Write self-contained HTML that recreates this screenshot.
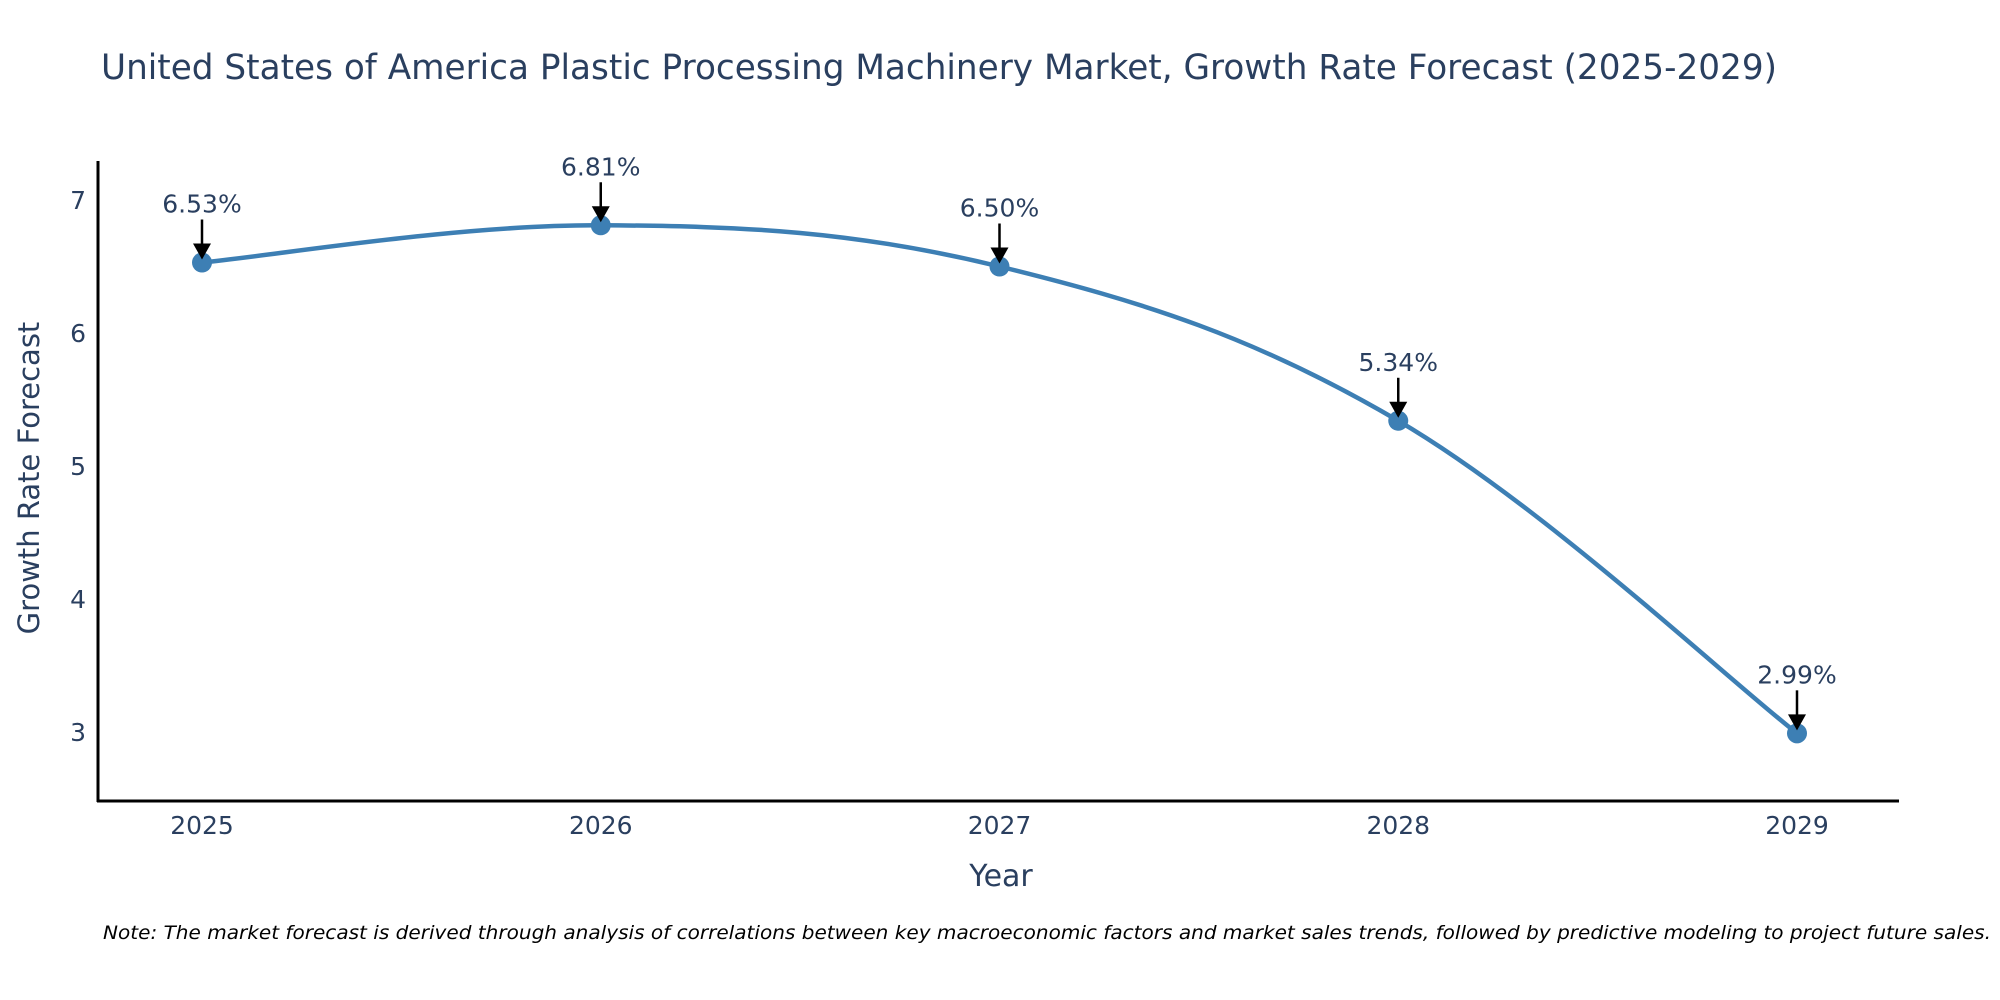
<!DOCTYPE html>
<html><head><meta charset="utf-8"><style>
html,body{margin:0;padding:0;background:#fff;}
svg{display:block;font-family:"DejaVu Sans","Liberation Sans",sans-serif;}
</style></head><body>
<svg id="chart" width="2000" height="1000" viewBox="0 0 2000 1000">
<text x="101" y="79" font-size="35" fill="#2a3f5f" textLength="1676" lengthAdjust="spacingAndGlyphs">United States of America Plastic Processing Machinery Market, Growth Rate Forecast (2025-2029)</text>
<g id="yticks"></g>
<g id="xticks"></g>
<line x1="98" y1="161" x2="98" y2="802" stroke="#000" stroke-width="3"/>
<line x1="97" y1="801" x2="1899" y2="801" stroke="#000" stroke-width="3"/>
<text x="1001" y="886" font-size="30" fill="#2a3f5f" text-anchor="middle">Year</text>
<text transform="translate(39,478) rotate(-90)" font-size="29" fill="#2a3f5f" text-anchor="middle">Growth Rate Forecast</text>
<g id="series"></g>
<g id="annots"></g>
<text x="103" y="939" font-size="19" font-style="italic" fill="#000" textLength="1888" lengthAdjust="spacingAndGlyphs">Note: The market forecast is derived through analysis of correlations between key macroeconomic factors and market sales trends, followed by predictive modeling to project future sales.</text>
</svg>
<script>
const years = [2025, 2026, 2027, 2028, 2029];
const growthValues = [6.53, 6.81, 6.50, 5.34, 2.99];
const valueLabels = ["6.53%", "6.81%", "6.50%", "5.34%", "2.99%"];
const yTickValues = [3, 4, 5, 6, 7];

const NS = "http://www.w3.org/2000/svg";
function xScale(yr){ return 202 + (yr - 2025) * 398.75; }
function yScale(v){ return 732 - (v - 3) * 133; }
function mk(tag, attrs, parent){
  const e = document.createElementNS(NS, tag);
  for (const k in attrs) e.setAttribute(k, attrs[k]);
  parent.appendChild(e);
  return e;
}
const yt = document.getElementById("yticks");
yTickValues.forEach(v => {
  const t = mk("text", {x: 86, y: yScale(v) + 9, "font-size": 25, fill: "#2a3f5f", "text-anchor": "end"}, yt);
  
  
  t.textContent = v;
});
const xt = document.getElementById("xticks");
years.forEach(yr => {
  const t = mk("text", {x: xScale(yr), y: 834, "font-size": 25, fill: "#2a3f5f", "text-anchor": "middle"}, xt);
  
  
  t.textContent = yr;
});
const pts = years.map((yr, i) => [xScale(yr), yScale(growthValues[i])]);
let d = "M" + pts[0][0] + "," + pts[0][1];
const tension = 0.18;
for (let i = 0; i < pts.length - 1; i++) {
  const p0 = pts[Math.max(0, i - 1)], p1 = pts[i], p2 = pts[i + 1], p3 = pts[Math.min(pts.length - 1, i + 2)];
  const c1 = [p1[0] + (p2[0] - p0[0]) * tension, p1[1] + (p2[1] - p0[1]) * tension];
  const c2 = [p2[0] - (p3[0] - p1[0]) * tension, p2[1] - (p3[1] - p1[1]) * tension];
  d += " C" + c1[0] + "," + c1[1] + " " + c2[0] + "," + c2[1] + " " + p2[0] + "," + p2[1];
}
const s = document.getElementById("series");
const path = mk("path", {d: d, fill: "none", stroke: "#3d7fb4", "stroke-width": 4.5}, s);


pts.forEach(p => {
  const c = mk("circle", {cx: p[0], cy: p[1], r: 10, fill: "#3d7fb4"}, s);
  
  
});
const an = document.getElementById("annots");
pts.forEach((p, i) => {
  const l = mk("line", {x1: p[0], y1: p[1] - 43, x2: p[0], y2: p[1] - 14, stroke: "#000", "stroke-width": 2.5}, an);
  
  
  const h = mk("polygon", {points: (p[0]-9)+","+(p[1]-19)+" "+(p[0]+9)+","+(p[1]-19)+" "+p[0]+","+(p[1]-3), fill: "#000"}, an);
  
  
  const t = mk("text", {x: p[0], y: p[1] - 50, "font-size": 25, fill: "#2a3f5f", "text-anchor": "middle"}, an);
  
  
  t.textContent = valueLabels[i];
});
</script>
</body></html>
